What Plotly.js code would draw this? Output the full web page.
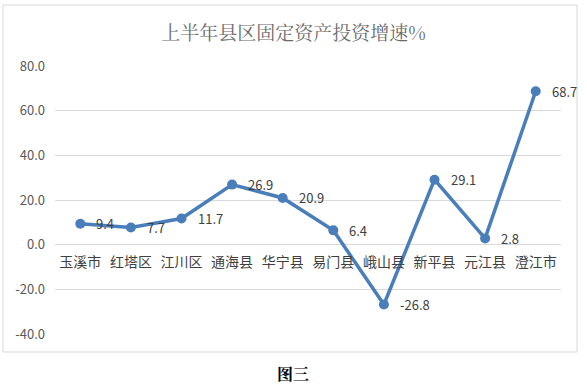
<!DOCTYPE html>
<html><head><meta charset="utf-8">
<script src="https://cdn.plot.ly/plotly-3.0.1.min.js"></script>
<style>html,body{margin:0;padding:0;background:#fff;}#chart{width:587px;height:391px;}</style>
</head><body><div id="chart"></div>
<script>
const categories = ["玉溪市","红塔区","江川区","通海县","华宁县","易门县","峨山县","新平县","元江县","澄江市"];
const growth = [9.4, 7.7, 11.7, 26.9, 20.9, 6.4, -26.8, 29.1, 2.8, 68.7];
const yTicks = [-40, -20, 0, 20, 40, 60, 80];
const chartTitle = "上半年县区固定资产投资增速%";
const caption = "图三";

const trace = {
  x: categories, y: growth, type: "scatter", mode: "lines+markers",
  line: {color: "#4A7EBB", width: 3.5}, marker: {color: "#4A7EBB", size: 10},
  cliponaxis: false, hoverinfo: "none"
};
const labelAnns = categories.map((c, i) => ({
  x: c, y: growth[i], xref: "x", yref: "y", text: growth[i].toFixed(1),
  showarrow: false, xanchor: "left", yanchor: "middle", xshift: 14,
  font: {family: "Noto Sans CJK SC, sans-serif", size: 13, color: "#404040"}
}));
const layout = {
  width: 587, height: 391,
  margin: {l: 55, r: 26, t: 66, b: 57},
  paper_bgcolor: "#fff", plot_bgcolor: "#fff",
  showlegend: false,
  title: {text: chartTitle, x: 0.5, xanchor: "center", y: 1 - 33/391, yanchor: "middle",
    font: {family: "Noto Serif CJK SC, Noto Sans CJK SC, sans-serif", size: 19, color: "#6a6a6a"}},
  xaxis: {type: "category", anchor: "free", position: 1/3, showline: false, showgrid: false,
    zeroline: false, ticks: "", range: [-0.5, 9.5],
    tickfont: {family: "Noto Sans CJK SC, sans-serif", size: 14, color: "#404040"}, ticklabelstandoff: 7},
  yaxis: {range: [-40, 80], tickvals: yTicks, ticktext: yTicks.map(v => v.toFixed(1)),
    showgrid: true, gridcolor: "#d9d9d9", gridwidth: 1, zeroline: false, showline: false, ticks: "",
    tickfont: {family: "Noto Sans CJK SC, sans-serif", size: 13, color: "#595959"}, ticklabelstandoff: 9},
  shapes: [{type: "rect", xref: "paper", yref: "paper", x0: -0.1028, x1: 1.0316, y0: -0.0672, y1: 1.2276,
    line: {color: "#d9d9d9", width: 1}, fillcolor: "rgba(0,0,0,0)"}],
  annotations: labelAnns.concat([{text: "<b>" + caption + "</b>", xref: "paper", yref: "paper", x: (293-55)/506, y: (334-373)/268,
    xanchor: "center", yanchor: "middle", showarrow: false,
    font: {family: "Noto Serif CJK SC, Noto Sans CJK SC, serif", size: 16, color: "#000"}}])
};
Plotly.newPlot("chart", [trace], layout, {displayModeBar: false, staticPlot: true});
</script></body></html>
